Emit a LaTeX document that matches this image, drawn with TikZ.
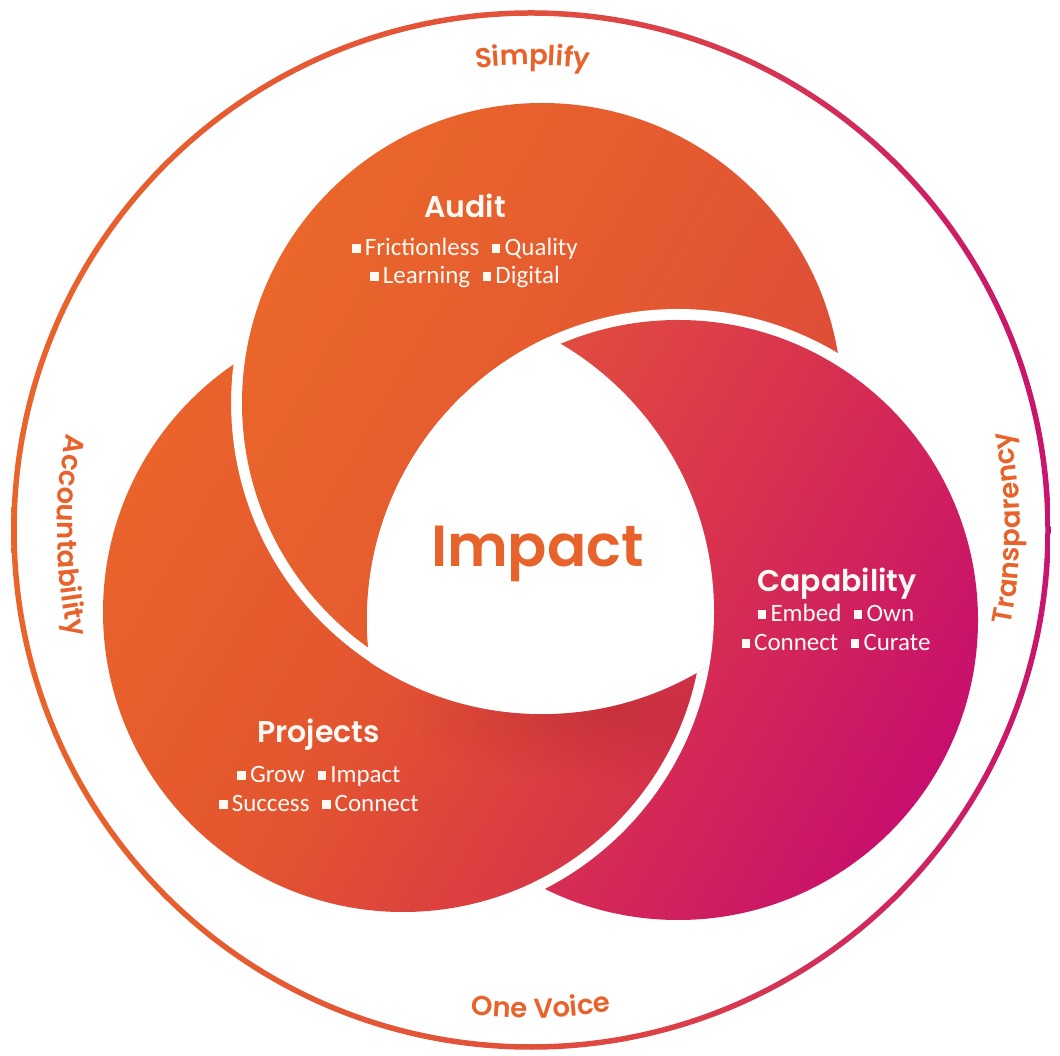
\documentclass[tikz,border=0pt]{standalone}
\usepackage{fontspec}
\setmainfont{Carlito}
\newfontfamily\headfont{Poppins SemiBold}
\newfontfamily\medfont{Poppins Medium}
\usetikzlibrary{decorations.text,fadings}

\definecolor{orng}{HTML}{E8632B}
\definecolor{txtw}{HTML}{FFF9F4}
\definecolor{au1}{HTML}{DC4A3A}
\definecolor{au2}{HTML}{E55A30}
\definecolor{au3}{HTML}{EA662A}
\definecolor{ca1}{HTML}{C70F6D}
\definecolor{ca2}{HTML}{D83150}
\definecolor{ca3}{HTML}{E3533A}
\definecolor{pr1}{HTML}{D6334A}
\definecolor{pr2}{HTML}{E4552F}
\definecolor{pr3}{HTML}{E9632B}
\definecolor{ri1}{HTML}{E9642A}
\definecolor{ri2}{HTML}{E1503C}
\definecolor{ri3}{HTML}{C8146E}
\definecolor{shadowc}{HTML}{8A1020}

\pgfdeclareverticalshading{auditgrad}{100bp}{color(0bp)=(au1); color(25bp)=(au1); color(50bp)=(au2); color(75bp)=(au3); color(100bp)=(au3)}
\pgfdeclareverticalshading{capgrad}{100bp}{color(0bp)=(ca1); color(25bp)=(ca1); color(50bp)=(ca2); color(75bp)=(ca3); color(100bp)=(ca3)}
\pgfdeclareverticalshading{projgrad}{100bp}{color(0bp)=(pr1); color(25bp)=(pr1); color(50bp)=(pr2); color(75bp)=(pr3); color(100bp)=(pr3)}
\pgfdeclarehorizontalshading{ringgrad}{100bp}{color(0bp)=(ri1); color(25bp)=(ri1); color(50bp)=(ri2); color(75bp)=(ri3); color(100bp)=(ri3)}

\tikzfading[name=softfade, inner color=transparent!0, outer color=transparent!100]

\newcommand{\ringfont}{\headfont\fontsize{27.5pt}{27.5pt}\selectfont}
\newcommand{\bsq}{\rule[0.13em]{0.34em}{0.34em}}

\begin{document}
\begin{tikzpicture}[x=1pt,y=1pt,
  titlef/.style={font=\headfont\fontsize{30pt}{30pt}\selectfont, text=txtw, anchor=base, inner sep=0},
  bul/.style={font=\fontsize{25pt}{25pt}\selectfont, text=txtw, anchor=base, inner sep=0},
  ringtext/.style={decorate, decoration={text along path, text align=center, text color=orng}}]
\useasboundingbox (0,0) rectangle (1060,1055);
\coordinate (O) at (531,525);
\coordinate (A) at (542,652);
\coordinate (C) at (678,435);
\coordinate (P) at (403,443);
% outer ring
\shade[shading=ringgrad, even odd rule] (O) circle[radius=519.75] (O) circle[radius=514.25];
% Projects (bottom layer)
\shade[shading=projgrad, shading angle=60] (P) circle[radius=300];
% Audit over Projects
\fill[white] (A) circle[radius=311];
\shade[shading=auditgrad, shading angle=60] (A) circle[radius=300];
% Capability over Audit
\fill[white] (C) circle[radius=311];
\shade[shading=capgrad, shading angle=60] (C) circle[radius=300];
% Projects over Capability (outside Audit)
\begin{scope}[even odd rule]
  \clip (0,0) rectangle (1060,1055) (A) circle[radius=311];
  \fill[white] (P) circle[radius=311];
  \shade[shading=projgrad, shading angle=60] (P) circle[radius=300];
  \begin{scope}
    \clip (P) circle[radius=300];
    \fill[shadowc, opacity=0.22, path fading=softfade] (605,345) ellipse[x radius=200, y radius=75];
  \end{scope}
\end{scope}
% white centre
\begin{scope}
  \clip (A) circle[radius=311];
  \clip (C) circle[radius=311];
  \fill[white] (P) circle[radius=311];
\end{scope}
% ring texts
\path[ringtext, decoration={text={|\ringfont|Simplify}}] ([shift={(119.8:465)}]O) arc[start angle=119.8, end angle=59.8, radius=465];
\path[ringtext, decoration={text={|\ringfont|One Voice}}] ([shift={(241.2:488)}]O) arc[start angle=241.2, end angle=301.2, radius=488];
\path[ringtext, decoration={text={|\ringfont|Accountability}}] ([shift={(150.7:474)}]O) arc[start angle=150.7, end angle=210.7, radius=474];
\path[ringtext, decoration={text={|\ringfont|Transparency}}] ([shift={(-29.8:489)}]O) arc[start angle=-29.8, end angle=30.2, radius=489];
% labels
\node[titlef] (audit) at (465,837) {Audit};
\node[bul] (auditl1) at (465,799) {\bsq\,Frictionless\hspace{0.5em}\bsq\,Quality};
\node[bul] (auditl2) at (465,771) {\bsq\,Learning\hspace{0.5em}\bsq\,Digital};
\node[font=\headfont\fontsize{58pt}{58pt}\selectfont, text=orng, anchor=base, inner sep=0] (impact) at (537.5,488) {Impact};
\node[titlef] (cap) at (837,463) {Capability};
\node[bul] (capl1) at (836,433) {\bsq\,Embed\hspace{0.5em}\bsq\,Own};
\node[bul] (capl2) at (836,404) {\bsq\,Connect\hspace{0.5em}\bsq\,Curate};
\node[titlef] (proj) at (318.5,312) {Projects};
\node[bul] (projl1) at (319,272) {\bsq\,Grow\hspace{0.5em}\bsq\,Impact};
\node[bul] (projl2) at (319,243) {\bsq\,Success\hspace{0.5em}\bsq\,Connect};
\end{tikzpicture}
\end{document}
